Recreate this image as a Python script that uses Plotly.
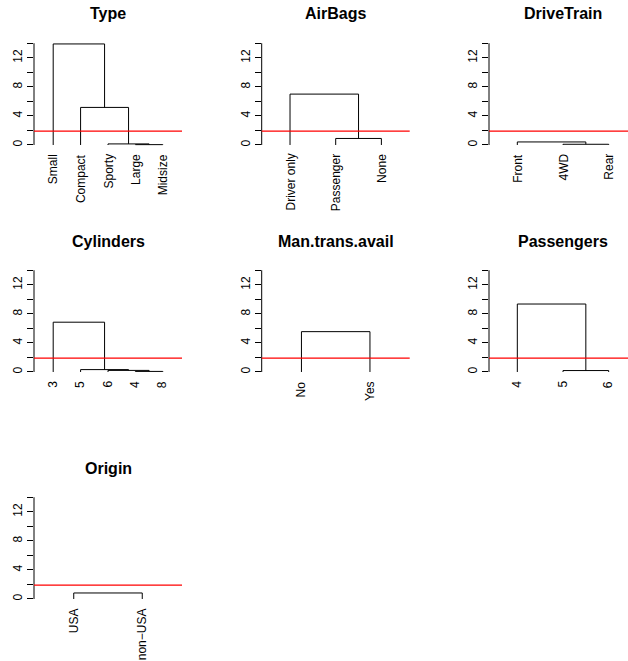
import plotly.graph_objects as go

# ---------------- data ----------------
panel_titles = ["Type", "AirBags", "DriveTrain", "Cylinders",
                "Man.trans.avail", "Passengers", "Origin"]

type_leaves = ["Small", "Compact", "Sporty", "Large", "Midsize"]
type_merges = [(-4, -5, 0.05), (-3, 1, 0.15), (-2, 2, 5.17), (-1, 3, 13.9)]

airbags_leaves = ["Driver only", "Passenger", "None"]
airbags_merges = [(-2, -3, 0.9), (-1, 1, 7.0)]

drivetrain_leaves = ["Front", "4WD", "Rear"]
drivetrain_merges = [(-2, -3, 0.1), (-1, 1, 0.42)]

cylinders_leaves = ["3", "5", "6", "4", "8"]
cylinders_merges = [(-4, -5, 0.08), (-3, 1, 0.22), (-2, 2, 0.33), (-1, 3, 6.85)]

mantrans_leaves = ["No", "Yes"]
mantrans_merges = [(-1, -2, 5.55)]

passengers_leaves = ["4", "5", "6"]
passengers_merges = [(-2, -3, 0.2), (-1, 1, 9.35)]

origin_leaves = ["USA", "non\u2212USA"]
origin_merges = [(-1, -2, 0.83)]

cut_height = 1.9
y_tick_values = [0, 2, 4, 6, 8, 10, 12, 14]
y_tick_labels = ["0", "", "4", "", "8", "", "12", ""]

panels = [
    (type_leaves, type_merges),
    (airbags_leaves, airbags_merges),
    (drivetrain_leaves, drivetrain_merges),
    (cylinders_leaves, cylinders_merges),
    (mantrans_leaves, mantrans_merges),
    (passengers_leaves, passengers_merges),
    (origin_leaves, origin_merges),
]

# ---------------- geometry (pixels) ----------------
W, H = 628, 661
COL_LEFT = [34.0, 261.7, 489.0]
PLOT_W = 148.0
ROW_ZERO = [145.0, 372.0, 599.0]
YPX = 7.27
Y_LO, Y_HI = -0.56, 14.56
FONT = "Liberation Sans, Arial, Helvetica, sans-serif"


def dendro_path(merges):
    pos = {}

    def get(c):
        return (float(-c), 0.0) if c < 0 else pos[c]

    xs, ys = [], []
    for i, (a, b, h) in enumerate(merges, start=1):
        xa, ha = get(a)
        xb, hb = get(b)
        xs += [xa, xa, xb, xb, None]
        ys += [ha, h, h, hb, None]
        pos[i] = ((xa + xb) / 2.0, h)
    return xs, ys


fig = go.Figure()
layout = dict(
    width=W, height=H, margin=dict(l=0, r=0, t=0, b=0),
    paper_bgcolor="white", plot_bgcolor="white", showlegend=False,
    font=dict(family=FONT, color="black", size=12),
)
shapes, annotations = [], []

for k, ((leaves, merges), title) in enumerate(zip(panels, panel_titles)):
    r, c = divmod(k, 3)
    idx = "" if k == 0 else str(k + 1)
    n = len(leaves)
    lo = 0.5 - 0.04 * n
    hi = n + 0.5 + 0.04 * n
    unit = PLOT_W / (hi - lo)
    left = COL_LEFT[c]
    right = min(left + PLOT_W, W)
    hi_eff = lo + (right - left) / unit
    top_px = ROW_ZERO[r] - Y_HI * YPX
    bot_px = ROW_ZERO[r] - Y_LO * YPX

    xs, ys = dendro_path(merges)
    fig.add_trace(go.Scatter(x=xs, y=ys, mode="lines",
                             line=dict(color="black", width=1),
                             xaxis="x" + idx, yaxis="y" + idx,
                             hoverinfo="skip"))

    layout["xaxis" + idx] = dict(domain=[left / W, right / W], range=[lo, hi_eff],
                                 visible=False, anchor="y" + idx, fixedrange=True)
    layout["yaxis" + idx] = dict(domain=[1 - bot_px / H, 1 - top_px / H],
                                 range=[Y_LO, Y_HI], anchor="x" + idx,
                                 tickmode="array", tickvals=y_tick_values,
                                 ticktext=y_tick_labels, ticks="outside",
                                 ticklen=6, tickwidth=1, tickcolor="black",
                                 tickangle=-90, ticklabelstandoff=0,
                                 tickfont=dict(size=12, family=FONT, color="black"),
                                 showline=False, showgrid=False, zeroline=False,
                                 fixedrange=True)

    # axis line from 0 to 14
    shapes.append(dict(type="line", xref="x" + idx + " domain", yref="y" + idx,
                       x0=0, x1=0, y0=y_tick_values[0], y1=y_tick_values[-1],
                       line=dict(color="black", width=1), layer="above"))
    # cut line
    shapes.append(dict(type="line", xref="x" + idx + " domain", yref="y" + idx,
                       x0=0, x1=1, y0=cut_height, y1=cut_height,
                       line=dict(color="red", width=1.3), layer="above"))

    # title
    annotations.append(dict(text="<b>" + title + "</b>", xref="paper", yref="paper",
                            x=(left + PLOT_W / 2) / W, y=1 - (ROW_ZERO[r] - 131.0) / H,
                            xanchor="center", yanchor="middle", showarrow=False,
                            font=dict(size=16, family=FONT, color="black")))
    # leaf labels
    for i, lab in enumerate(leaves, start=1):
        annotations.append(dict(text=lab, xref="x" + idx, yref="paper",
                                x=i, y=1 - (ROW_ZERO[r] + 8.0) / H,
                                xanchor="center", yanchor="top", textangle=-90,
                                showarrow=False, borderpad=0,
                                font=dict(size=12, family=FONT, color="black")))

layout["shapes"] = shapes
layout["annotations"] = annotations
fig.update_layout(**layout)
fig.write_html("out.html")
